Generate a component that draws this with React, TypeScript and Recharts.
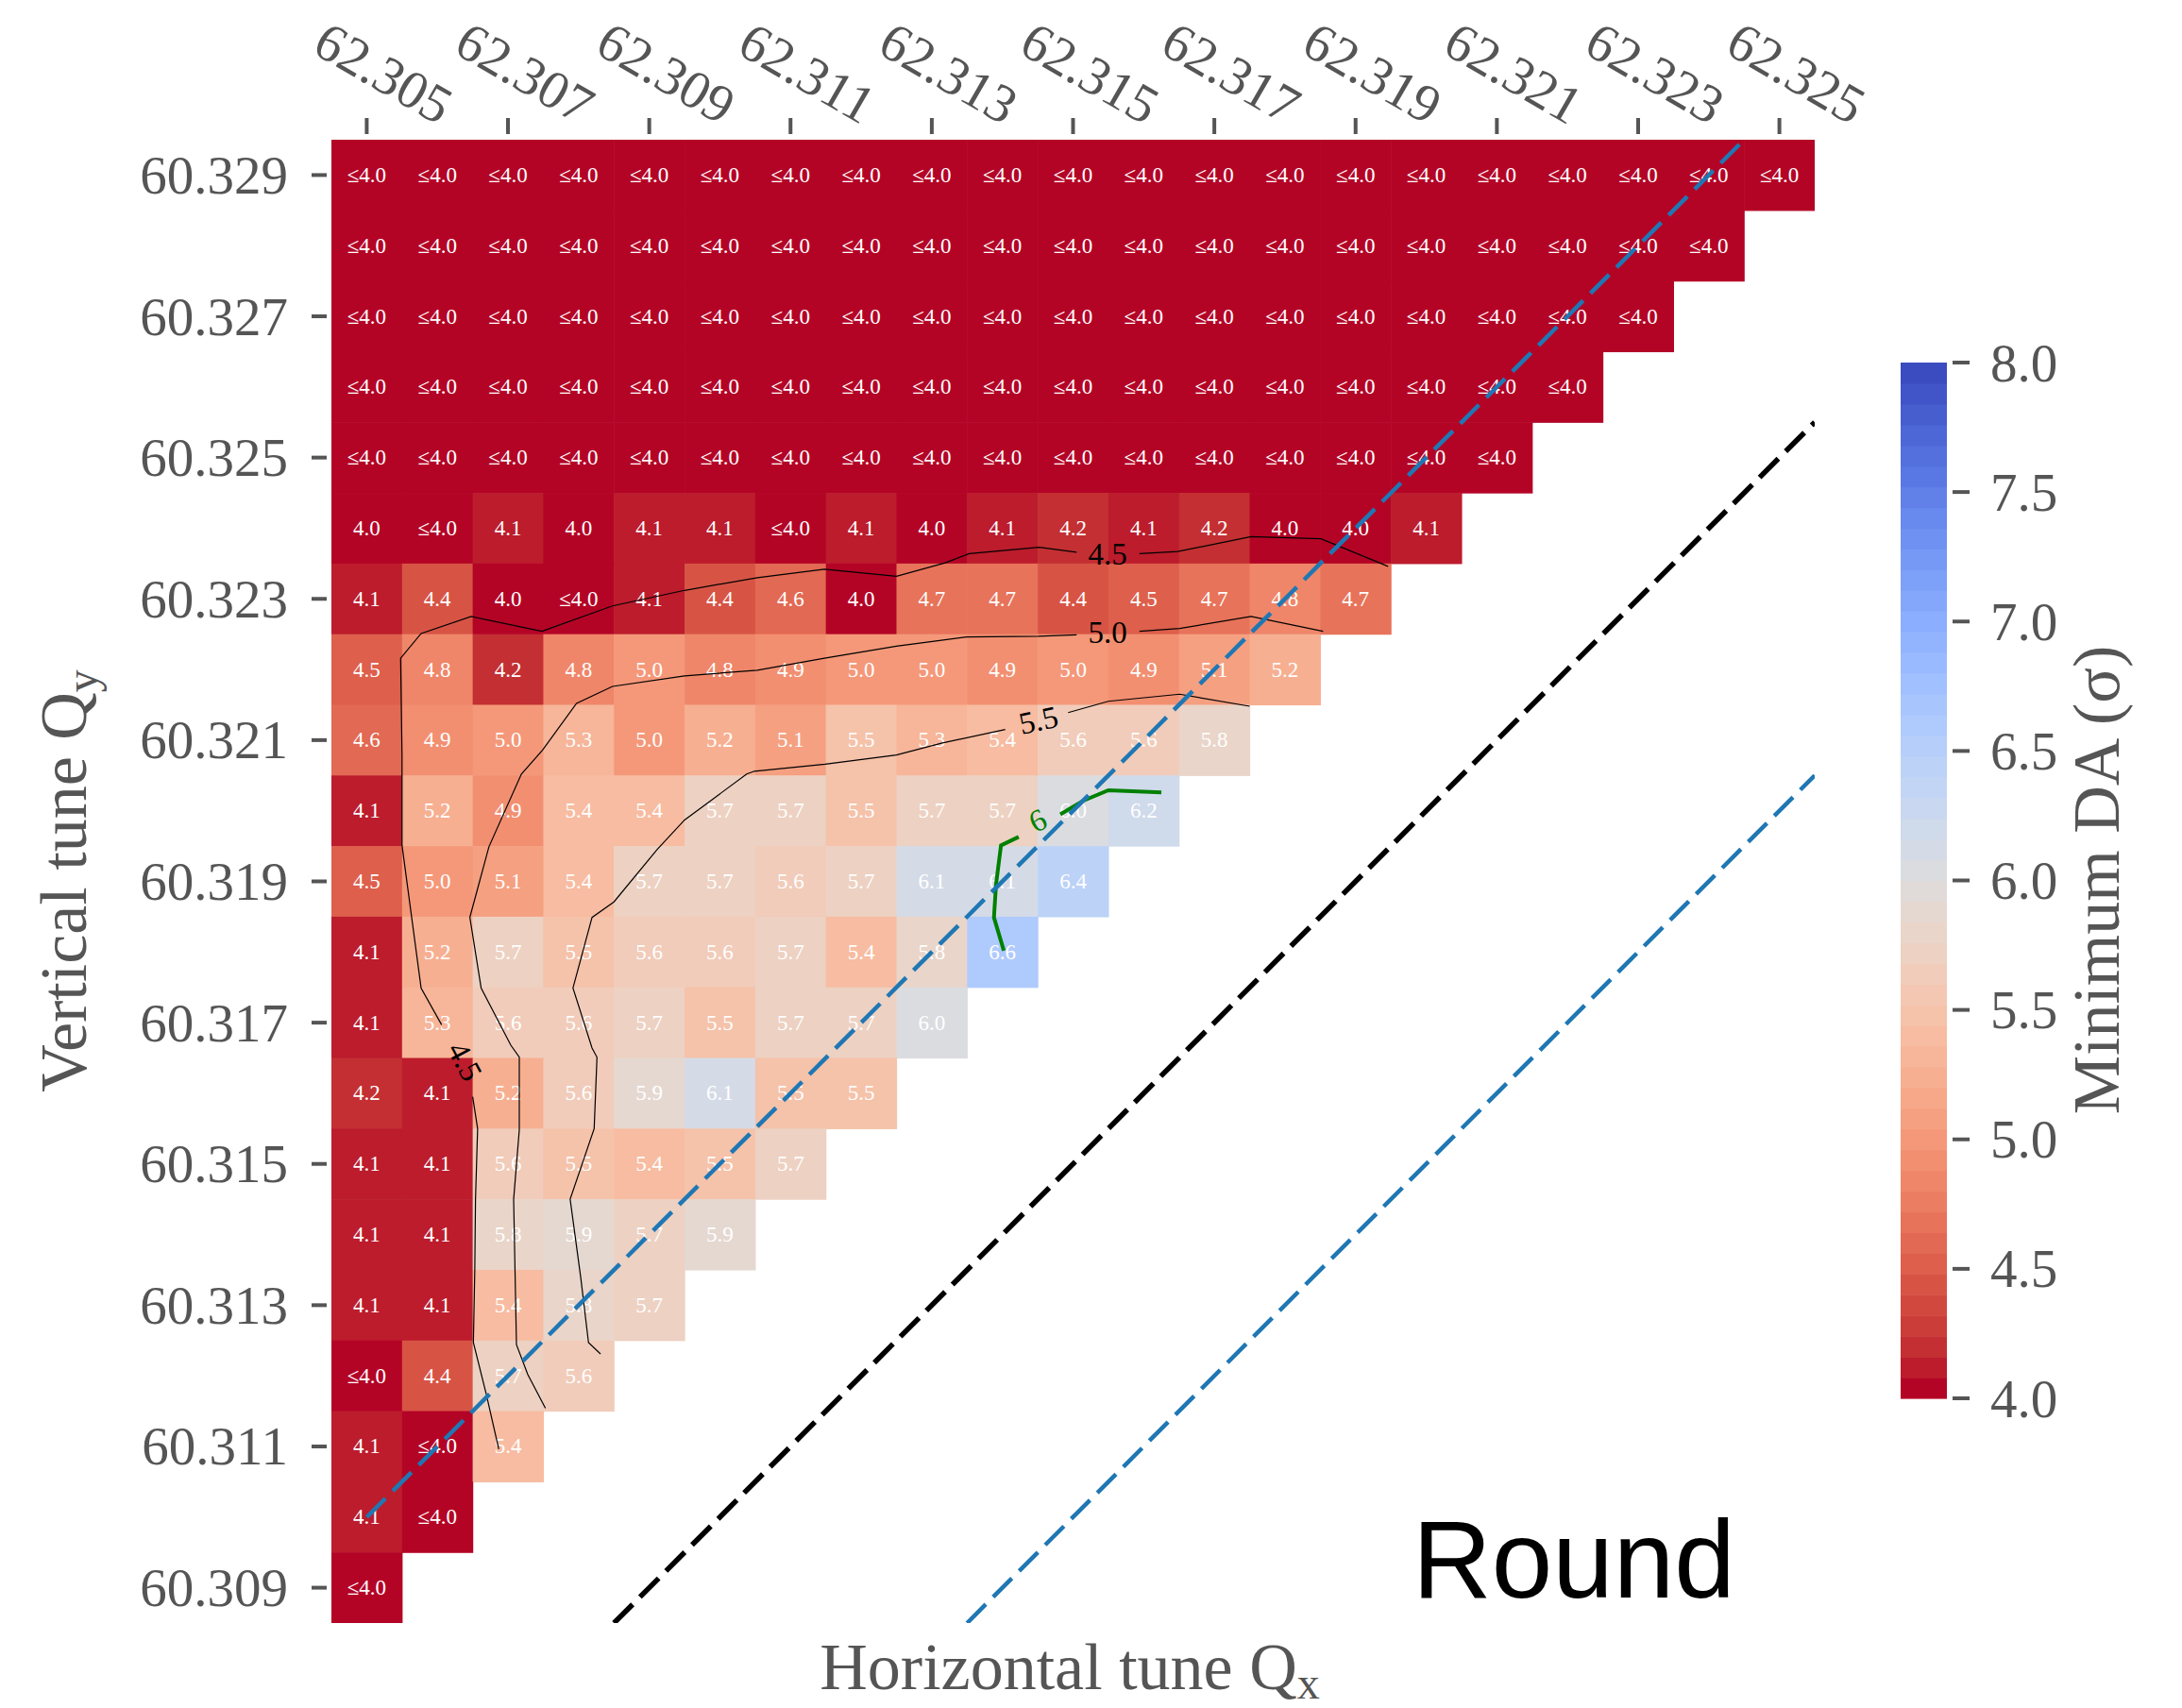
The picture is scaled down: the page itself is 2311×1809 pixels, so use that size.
import React from 'react';
import { ScatterChart, Scatter, XAxis, YAxis } from 'recharts';

// tune grid
const QX_VALUES = [62.305, 62.306, 62.307, 62.308, 62.309, 62.31, 62.311, 62.312, 62.313, 62.314, 62.315,
  62.316, 62.317, 62.318, 62.319, 62.32, 62.321, 62.322, 62.323, 62.324, 62.325];
const QY_VALUES = [60.329, 60.328, 60.327, 60.326, 60.325, 60.324, 60.323, 60.322, 60.321, 60.32, 60.319,
  60.318, 60.317, 60.316, 60.315, 60.314, 60.313, 60.312, 60.311, 60.31, 60.309];
const QX_TICKS = [62.305, 62.307, 62.309, 62.311, 62.313, 62.315, 62.317, 62.319, 62.321, 62.323, 62.325];
const QY_TICKS = [60.309, 60.311, 60.313, 60.315, 60.317, 60.319, 60.321, 60.323, 60.325, 60.327, 60.329];
const CBAR_TICKS = [4, 4.5, 5, 5.5, 6, 6.5, 7, 7.5, 8];

const L = '≤4.0';
// minimum DA per row, top row (Qy = 60.329) first, from Qx = 62.305 rightwards
const DA_ROWS: string[][] = [
  Array(21).fill(L),
  Array(20).fill(L),
  Array(19).fill(L),
  Array(18).fill(L),
  Array(17).fill(L),
  ['4.0', L, '4.1', '4.0', '4.1', '4.1', L, '4.1', '4.0', '4.1', '4.2', '4.1', '4.2', '4.0', '4.0', '4.1'],
  ['4.1', '4.4', '4.0', L, '4.1', '4.4', '4.6', '4.0', '4.7', '4.7', '4.4', '4.5', '4.7', '4.8', '4.7'],
  ['4.5', '4.8', '4.2', '4.8', '5.0', '4.8', '4.9', '5.0', '5.0', '4.9', '5.0', '4.9', '5.1', '5.2'],
  ['4.6', '4.9', '5.0', '5.3', '5.0', '5.2', '5.1', '5.5', '5.3', '5.4', '5.6', '5.6', '5.8'],
  ['4.1', '5.2', '4.9', '5.4', '5.4', '5.7', '5.7', '5.5', '5.7', '5.7', '6.0', '6.2'],
  ['4.5', '5.0', '5.1', '5.4', '5.7', '5.7', '5.6', '5.7', '6.1', '6.1', '6.4'],
  ['4.1', '5.2', '5.7', '5.5', '5.6', '5.6', '5.7', '5.4', '5.8', '6.6'],
  ['4.1', '5.3', '5.6', '5.6', '5.7', '5.5', '5.7', '5.7', '6.0'],
  ['4.2', '4.1', '5.2', '5.6', '5.9', '6.1', '5.5', '5.5'],
  ['4.1', '4.1', '5.6', '5.5', '5.4', '5.5', '5.7'],
  ['4.1', '4.1', '5.8', '5.9', '5.7', '5.9'],
  ['4.1', '4.1', '5.4', '5.8', '5.7'],
  [L, '4.4', '5.7', '5.6'],
  ['4.1', L, '5.4'],
  ['4.1', L],
  [L],
];

// contour levels (Qx, Qy), split where the labels sit
const C45_RIGHT = [[62.31594, 60.32364], [62.31648, 60.32367], [62.31752, 60.32388], [62.31851, 60.32385], [62.31946, 60.32346]];
const C45_MID = [[62.31505, 60.32366], [62.31452, 60.32373], [62.31353, 60.32364], [62.31319, 60.32351], [62.3125, 60.32332],
  [62.31148, 60.32342], [62.31053, 60.3233], [62.3095, 60.32312], [62.30848, 60.3229], [62.30748, 60.32254],
  [62.30648, 60.32275], [62.30577, 60.32251], [62.30548, 60.32216], [62.3055, 60.32078], [62.3055, 60.31951],
  [62.30577, 60.31749], [62.30606, 60.31697]];
const C45_LOW = [[62.3065, 60.31595], [62.30657, 60.3155], [62.30654, 60.3145], [62.30653, 60.3135], [62.30651, 60.31247],
  [62.30669, 60.31175], [62.30687, 60.31096]];
const C50_RIGHT = [[62.31594, 60.32254], [62.31651, 60.32258], [62.31752, 60.32275], [62.31854, 60.32254]];
const C50_LEFT = [[62.31505, 60.32249], [62.31451, 60.32247], [62.31349, 60.32246], [62.3125, 60.32233], [62.31148, 60.32216],
  [62.31053, 60.32199], [62.3095, 60.32191], [62.30848, 60.32176], [62.30797, 60.32152], [62.30749, 60.32086],
  [62.30719, 60.32052], [62.30673, 60.31949], [62.30646, 60.31849], [62.30662, 60.31749], [62.30704, 60.31668],
  [62.30716, 60.31651], [62.30716, 60.31548], [62.30708, 60.3145], [62.30712, 60.31244], [62.30728, 60.31202],
  [62.30753, 60.31154]];
const C55_RIGHT = [[62.31493, 60.32139], [62.3155, 60.32155], [62.31651, 60.32165], [62.3175, 60.32148]];
const C55_LEFT = [[62.31404, 60.32115], [62.31315, 60.32096], [62.3125, 60.32079], [62.31149, 60.32066], [62.31049, 60.32056],
  [62.31038, 60.32052], [62.3095, 60.31987], [62.30911, 60.31945], [62.3085, 60.31871], [62.30819, 60.31849],
  [62.30792, 60.31749], [62.30819, 60.31664], [62.30826, 60.31651], [62.30822, 60.3155], [62.30788, 60.3145],
  [62.30803, 60.31339], [62.30814, 60.31247], [62.30831, 60.31231]];
const C60_LOW = [[62.31402, 60.31802], [62.31388, 60.31849], [62.31391, 60.31896], [62.31398, 60.31951], [62.31423, 60.31963]];
const C60_HIGH = [[62.31482, 60.31995], [62.31514, 60.32014], [62.3155, 60.32029], [62.31625, 60.32026]];

const CONTOUR_LABELS = [
  { x: 62.31549, y: 60.32363, text: '4.5', angle: 0, color: '#000' },
  { x: 62.31549, y: 60.32252, text: '5.0', angle: 0, color: '#000' },
  { x: 62.31451, y: 60.32128, text: '5.5', angle: -12, color: '#000' },
  { x: 62.30639, y: 60.31645, text: '4.5', angle: 62, color: '#000' },
  { x: 62.3145, y: 60.31986, text: '6', angle: -25, color: '#008000' },
];

// resonance lines
const LINE_UPPER = [[62.305, 60.31], [62.3245, 60.3295]];
const LINE_DIAG = [[62.3085, 60.3085], [62.3255, 60.3255]];
const LINE_LOWER = [[62.3135, 60.3085], [62.3255, 60.3205]];

const COOLWARM = [
  [59, 76, 192], [68, 90, 204], [77, 104, 215], [87, 117, 225], [98, 130, 234], [108, 142, 241], [119, 154, 247],
  [130, 165, 251], [141, 176, 254], [152, 185, 255], [163, 194, 255], [174, 201, 253], [184, 208, 249],
  [194, 213, 244], [204, 217, 238], [213, 219, 230], [221, 221, 221], [229, 216, 209], [236, 211, 197],
  [241, 204, 185], [245, 196, 173], [247, 187, 160], [247, 177, 148], [247, 166, 135], [244, 154, 123],
  [241, 141, 111], [236, 127, 99], [229, 112, 88], [222, 96, 77], [213, 80, 66], [203, 62, 56], [192, 40, 47],
  [180, 4, 38],
];
const N_BANDS = 50;
const VMIN = 4;
const VMAX = 8;
const BAND = (VMAX - VMIN) / N_BANDS;

function coolwarm(t: number) {
  const f = Math.max(0, Math.min(1, t)) * (COOLWARM.length - 1);
  const i = Math.min(COOLWARM.length - 2, Math.floor(f));
  const r = f - i;
  const c = COOLWARM[i].map((a, k) => Math.round(a + (COOLWARM[i + 1][k] - a) * r));
  return `rgb(${c[0]},${c[1]},${c[2]})`;
}
const bandColor = (k: number) => coolwarm(1 - k / (N_BANDS - 1));
function daColor(v: number) {
  const k = Math.max(0, Math.min(N_BANDS - 1, Math.floor((v - VMIN) / BAND + 1e-6)));
  return bandColor(k);
}

const W = 2311;
const H = 1809;
const PLOT_L = 351;
const PLOT_T = 148;
const PLOT_W = 1571;
const PLOT_H = 1571;
const CELL = PLOT_W / QX_VALUES.length;
const CB_W = 49;
const CB_H = 1097;
const SERIF = '"Liberation Serif", "Times New Roman", serif';
const GREY = '#555';

const cells = DA_ROWS.flatMap((row, r) =>
  row.map((s, c) => ({
    x: QX_VALUES[c],
    y: QY_VALUES[r],
    label: s,
    v: s.startsWith('≤') ? VMIN : parseFloat(s),
  })),
);
const pts = (a: number[][]) => a.map(([x, y]) => ({ x, y }));
const bands = Array.from({ length: N_BANDS }, (_, k) => ({ x: 0.5, y: VMIN + (k + 0.5) * BAND, k }));

const noDot = () => <g />;

const CellShape = (p: any) => {
  const { cx, cy, payload } = p;
  return (
    <g>
      <rect x={cx - CELL / 2} y={cy - CELL / 2} width={CELL + 0.6} height={CELL + 0.6} fill={daColor(payload.v)} />
      <text x={cx} y={cy} textAnchor="middle" dominantBaseline="central" fill="#fff" fontSize={23} fontFamily={SERIF}>
        {payload.label}
      </text>
    </g>
  );
};

const BandShape = (p: any) => {
  const { cx, cy, payload } = p;
  const h = CB_H / N_BANDS;
  return <rect x={cx - CB_W / 2} y={cy - h / 2} width={CB_W} height={h + 0.6} fill={bandColor(payload.k)} />;
};

const LabelShape = (p: any) => {
  const { cx, cy, payload } = p;
  return (
    <text x={cx} y={cy} textAnchor="middle" dominantBaseline="central" fill={payload.color} fontSize={33}
      fontFamily={SERIF} transform={`rotate(${payload.angle}, ${cx}, ${cy})`}>
      {payload.text}
    </text>
  );
};

const XTick = (p: any) => {
  const { x, y, payload } = p;
  const lx = x + 18;
  const ly = y - 71;
  return (
    <g>
      <line x1={x} x2={x} y1={y - 6} y2={y - 23} stroke={GREY} strokeWidth={4} />
      <text x={lx} y={ly} textAnchor="middle" dominantBaseline="central" fill={GREY} fontSize={57} fontFamily={SERIF}
        transform={`rotate(30, ${lx}, ${ly})`}>
        {Number(payload.value).toFixed(3)}
      </text>
    </g>
  );
};

const YTick = (p: any) => {
  const { x, y, payload } = p;
  return (
    <g>
      <line x1={x - 21} x2={x - 5} y1={y} y2={y} stroke={GREY} strokeWidth={4} />
      <text x={x - 46} y={y} textAnchor="end" dominantBaseline="central" fill={GREY} fontSize={57} fontFamily={SERIF}>
        {Number(payload.value).toFixed(3)}
      </text>
    </g>
  );
};

const CbarTick = (p: any) => {
  const { x, y, payload } = p;
  return (
    <g>
      <line x1={x + 6} x2={x + 24} y1={y} y2={y} stroke={GREY} strokeWidth={4} />
      <text x={x + 46} y={y} textAnchor="start" dominantBaseline="central" fill={GREY} fontSize={57} fontFamily={SERIF}>
        {Number(payload.value).toFixed(1)}
      </text>
    </g>
  );
};

const contour = (data: number[][], key: string, color = '#000', width = 1.2) => (
  <Scatter key={key} data={pts(data)} shape={noDot} fill="none" line={{ stroke: color, strokeWidth: width }}
    lineType="joint" isAnimationActive={false} />
);

const App: React.FC = () => {
  return (
    <div style={{ position: 'absolute', left: 0, top: 0, width: W, height: H, background: '#fff' }}>
      <ScatterChart width={W} height={H} margin={{ top: PLOT_T - 100, left: PLOT_L - 100, right: W - PLOT_L - PLOT_W, bottom: H - PLOT_T - PLOT_H }}>
        <XAxis type="number" dataKey="x" orientation="top" domain={[62.3045, 62.3255]} allowDataOverflow
          ticks={QX_TICKS} interval={0} tick={<XTick />} tickLine={false} axisLine={false} tickSize={0} tickMargin={0} height={100} />
        <YAxis type="number" dataKey="y" domain={[60.3085, 60.3295]} allowDataOverflow
          ticks={QY_TICKS} interval={0} tick={<YTick />} tickLine={false} axisLine={false} tickSize={0} tickMargin={0} width={100} />
        <Scatter data={cells} shape={CellShape} isAnimationActive={false} />
        {contour(C45_RIGHT, 'c45r')}
        {contour(C45_MID, 'c45m')}
        {contour(C45_LOW, 'c45l')}
        {contour(C50_RIGHT, 'c50r')}
        {contour(C50_LEFT, 'c50l')}
        {contour(C55_RIGHT, 'c55r')}
        {contour(C55_LEFT, 'c55l')}
        {contour(C60_LOW, 'c60l', '#008000', 4)}
        {contour(C60_HIGH, 'c60h', '#008000', 4)}
        <Scatter data={CONTOUR_LABELS} shape={LabelShape} isAnimationActive={false} />
        <Scatter data={pts(LINE_DIAG)} shape={noDot} fill="none" lineType="joint"
          line={{ stroke: '#000', strokeWidth: 5.5, strokeDasharray: '28 11' }} isAnimationActive={false} />
        <Scatter data={pts(LINE_LOWER)} shape={noDot} fill="none" lineType="joint"
          line={{ stroke: '#1f77b4', strokeWidth: 4.5, strokeDasharray: '28 11' }} isAnimationActive={false} />
        <Scatter data={pts(LINE_UPPER)} shape={noDot} fill="none" lineType="joint"
          line={{ stroke: '#1f77b4', strokeWidth: 4.5, strokeDasharray: '28 11' }} isAnimationActive={false} />
      </ScatterChart>

      <div style={{ position: 'absolute', left: 2000, top: 300 }}>
        <ScatterChart width={311} height={1300} margin={{ top: 84, left: 13, right: 49, bottom: 119 }}>
          <XAxis type="number" dataKey="x" domain={[0, 1]} hide />
          <YAxis type="number" dataKey="y" orientation="right" domain={[VMIN, VMAX]} ticks={CBAR_TICKS} interval={0}
            tick={<CbarTick />} tickLine={false} axisLine={false} tickSize={0} tickMargin={0} width={200} />
          <Scatter data={bands} shape={BandShape} isAnimationActive={false} />
        </ScatterChart>
      </div>

      <svg width={W} height={H} style={{ position: 'absolute', left: 0, top: 0, pointerEvents: 'none' }}>
        <text x={1133} y={1789} textAnchor="middle" fontSize={70} fill={GREY} fontFamily={SERIF}>
          Horizontal tune Q<tspan fontSize={48} dy={10}>x</tspan>
        </text>
        <text transform="translate(91, 933) rotate(-90)" textAnchor="middle" fontSize={70} fill={GREY} fontFamily={SERIF}>
          Vertical tune Q<tspan fontSize={48} dy={12}>y</tspan>
        </text>
        <text transform="translate(2244, 932) rotate(-90)" textAnchor="middle" fontSize={70} fill={GREY} fontFamily={SERIF}>
          Minimum DA (σ)
        </text>
        <text x={1496} y={1692} fontSize={116} fill="#000" fontFamily='"Liberation Sans", Arial, sans-serif'>
          Round
        </text>
      </svg>
    </div>
  );
};

export default App;
